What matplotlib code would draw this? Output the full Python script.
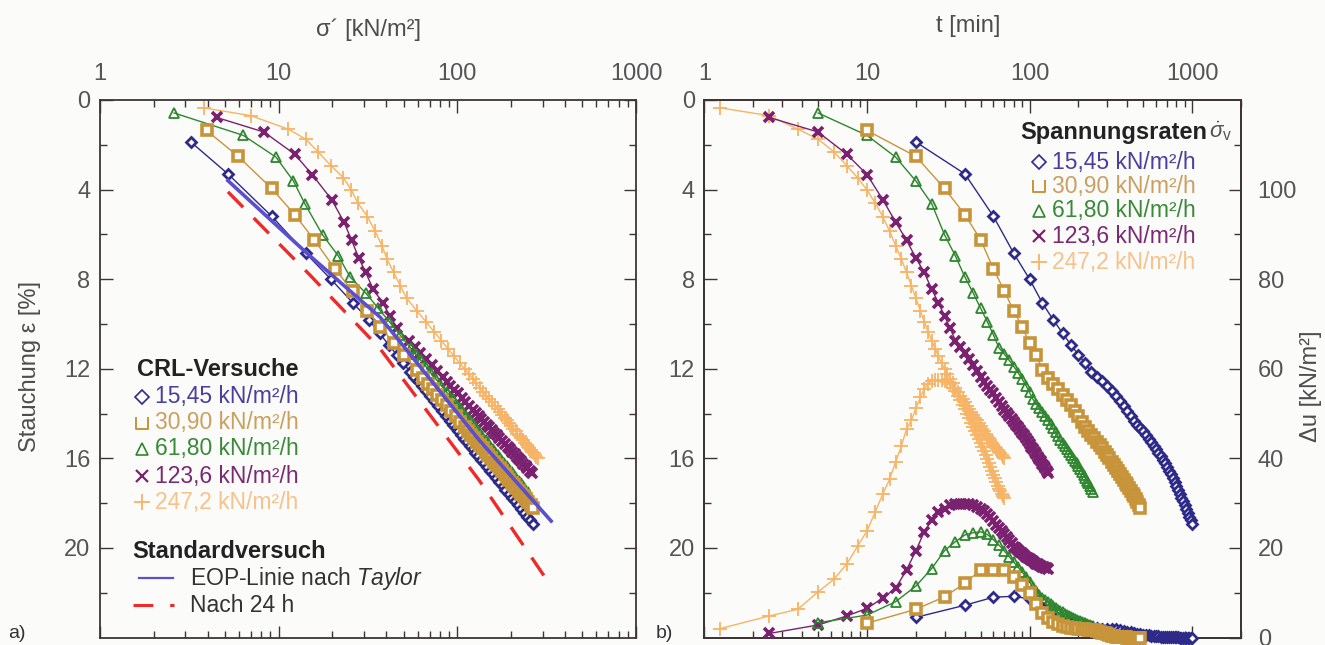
import numpy as np
import matplotlib
matplotlib.use("Agg")
import matplotlib.pyplot as plt
from matplotlib.path import Path
from matplotlib.ticker import LogLocator, NullFormatter, FixedLocator

plt.rcParams["font.family"] = ["Liberation Sans", "DejaVu Sans"]
plt.rcParams["mathtext.fontset"] = "custom"
plt.rcParams["mathtext.rm"] = "Liberation Sans"
plt.rcParams["mathtext.it"] = "Liberation Sans:italic"

# ---------------- data ----------------
rate_labels = ["15,45 kN/m²/h", "30,90 kN/m²/h", "61,80 kN/m²/h",
               "123,6 kN/m²/h", "247,2 kN/m²/h"]

sigma_ticks = [1, 10, 100, 1000]
time_ticks = [1, 10, 100, 1000]
strain_ticks = [0, 4, 8, 12, 16, 20]
du_ticks = [0, 20, 40, 60, 80, 100]

# 15,45 kN/m²/h  (time [min], strain [%], sigma' [kN/m²], excess pore pressure [kN/m²])
t_b = [20, 40, 60, 80, 100, 120, 140, 160, 180, 200, 220, 240,
       260, 280, 300, 320, 340, 360, 380, 400, 420, 440, 460, 480, 500,
       520, 540, 560, 580, 600, 620, 640, 660, 680, 700, 720, 740, 760,
       780, 800, 820, 840, 860, 880, 900, 920, 940, 960, 980, 1000]
eps_b = [1.88, 3.30, 5.20, 6.85, 8.00, 9.07, 9.82, 10.42, 10.94, 11.38, 11.75, 12.13,
         12.35, 12.56, 12.78, 13.00, 13.22, 13.45, 13.68, 13.90, 14.12, 14.33, 14.49,
         14.65, 14.80, 14.96, 15.12, 15.28, 15.44, 15.60, 15.75, 15.90, 16.06, 16.22,
         16.38, 16.55, 16.72, 16.90, 17.07, 17.25, 17.42, 17.60, 17.76, 17.92, 18.10,
         18.27, 18.43, 18.60, 18.77, 18.95]
sig_b = [3.23, 5.20, 9.17, 14.2, 19.6, 26.1, 32.0, 36.7, 41.4, 45.8, 49.9, 54.4,
         57.2, 60.1, 63.3, 66.6, 70.2, 73.9, 78.0, 82.1, 86.4, 90.8, 94.3, 97.8, 101,
         105, 109, 113, 117, 122, 126, 131, 136, 141, 146, 152, 158, 165,
         172, 179, 186, 194, 201, 209, 218, 227, 236, 245, 255, 266]
du_b = [4.5, 7.2, 9.0, 9.2, 8.6, 6.5, 4.3, 3.2, 2.7, 2.4, 2.2, 2.1,
        2.05, 2.0, 2.0, 1.9, 1.8, 1.6, 1.45, 1.3, 1.15, 1.0, 0.85, 0.7, 0.6,
        0.5, 0.45, 0.4, 0.35, 0.3, 0.25, 0.2, 0.2, 0.2, 0.15, 0.1, 0.1, 0.1,
        0.1, 0.1, 0.05, 0.0, 0.0, 0.0, 0.0, 0.0, 0.0, 0.0, 0.0, 0.0]

# 30,90 kN/m²/h
t_g = [10, 20, 30, 40, 50, 60, 70, 80, 90, 100, 110, 120, 130,
       140, 150, 160, 170, 180, 190, 200, 210, 220, 230, 240, 250, 260,
       270, 280, 290, 300, 310, 320, 330, 340, 350, 360, 370, 380, 390,
       400, 410, 420, 430, 440, 450, 460, 470, 480]
eps_g = [1.36, 2.52, 3.95, 5.12, 6.24, 7.55, 8.53, 9.43, 10.12, 10.86, 11.38, 12.05, 12.42,
         12.66, 12.90, 13.15, 13.40, 13.64, 13.88, 14.12, 14.37, 14.61, 14.78, 14.95,
         15.10, 15.25, 15.40, 15.55, 15.70, 15.85, 16.00, 16.15, 16.30, 16.45, 16.58,
         16.70, 16.83, 16.95, 17.08, 17.20, 17.33, 17.45, 17.58, 17.70, 17.83, 17.95,
         18.08, 18.20]
sig_g = [3.95, 5.94, 9.14, 12.3, 15.8, 20.7, 25.9, 31.3, 36.9, 44.2, 50.2, 59.1, 64.6,
         68.5, 72.7, 77.2, 82.0, 87.1, 92.4, 97.9, 104, 110, 115, 120, 124, 129,
         134, 139, 144, 149, 155, 161, 167, 173, 178, 184, 190, 195, 202,
         208, 214, 221, 228, 235, 242, 249, 257, 265]
du_g = [3.2, 6.3, 9.1, 12.1, 15.1, 15.1, 15.1, 13.6, 11.7, 9.9, 7.5, 5.5, 4.3,
        3.5, 3.0, 2.6, 2.4, 2.2, 2.1, 2.0, 1.9, 1.8, 1.75, 1.7, 1.6, 1.5,
        1.3, 1.1, 0.9, 0.7, 0.55, 0.4, 0.3, 0.2, 0.15, 0.1, 0.1, 0.1, 0.05,
        0.0, 0.0, 0.0, 0.0, 0.0, 0.0, 0.0, 0.0, 0.0]

# 61,80 kN/m²/h
t_gr = [5, 10, 15, 20, 25, 30, 35, 40, 45, 50, 55, 60, 65,
        70, 75, 80, 85, 90, 95, 100, 105, 110, 115, 120, 125, 130,
        135, 140, 145, 150, 155, 160, 165, 170, 175, 180, 185, 190,
        195, 200, 205, 210, 215, 220, 225, 230, 235, 240, 245]
eps_gr = [0.58, 1.58, 2.55, 3.62, 4.63, 6.02, 6.97, 7.90, 8.62, 9.30, 9.90, 10.50, 11.08,
          11.35, 11.63, 11.90, 12.18, 12.46, 12.75, 13.06, 13.37, 13.56, 13.75, 13.93,
          14.10, 14.29, 14.47, 14.66, 14.84, 15.02, 15.20, 15.33, 15.46, 15.58, 15.71,
          15.84, 15.97, 16.10, 16.22, 16.35, 16.48, 16.60, 16.73, 16.86, 16.99, 17.12,
          17.24, 17.37, 17.50]
sig_gr = [2.6, 6.34, 9.66, 12.1, 14.0, 17.6, 21.6, 25.1, 30.7, 36.1, 41.6, 47.9, 54.8,
          58.5, 62.4, 66.6, 71.0, 75.9, 81.2, 87.4, 94.0, 98.5, 103, 107, 112, 117,
          122, 127, 133, 138, 144, 148, 153, 158, 163, 168, 173, 178,
          183, 189, 195, 201, 207, 213, 220, 226, 233, 240, 248]
du_gr = [3.3, 5.0, 8.0, 11.5, 15.4, 19.4, 21.4, 22.9, 23.4, 23.6, 23.0, 21.8, 20.6,
         19.3, 18.0, 16.8, 15.7, 14.6, 13.6, 12.4, 11.2, 10.3, 9.5, 8.9, 8.4, 7.9,
         7.4, 7.0, 6.6, 6.2, 5.9, 5.6, 5.3, 5.05, 4.8, 4.55, 4.3, 4.1,
         3.9, 3.75, 3.6, 3.45, 3.3, 3.15, 3.0, 2.85, 2.7, 2.6, 2.5]

# 123,6 kN/m²/h
t_p = [2.5, 5, 7.5, 10, 12.5, 15, 17.5, 20, 22.5, 25, 27.5, 30, 32.5, 35,
       37.5, 40, 42.5, 45, 47.5, 50, 52.5, 55, 57.5, 60, 62.5, 65, 67.5,
       70, 72.5, 75, 77.5, 80, 82.5, 85, 87.5, 90, 92.5, 95, 97.5, 100,
       102.5, 105, 107.5, 110, 112.5, 115, 117.5, 120, 122.5, 125, 127.5, 130]
eps_p = [0.78, 1.43, 2.42, 3.33, 4.45, 5.45, 6.26, 7.06, 7.70, 8.45, 9.05, 9.65, 10.20, 10.75,
         11.03, 11.30, 11.58, 11.85, 12.12, 12.38, 12.57, 12.75, 12.93, 13.10, 13.29,
         13.47, 13.65, 13.83, 13.98, 14.12, 14.25, 14.37, 14.50, 14.62, 14.74, 14.86,
         14.98, 15.10, 15.23, 15.35, 15.48, 15.60, 15.71, 15.82, 15.93, 16.03, 16.14,
         16.24, 16.35, 16.45, 16.55, 16.65]
sig_p = [4.50, 8.27, 12.3, 15.4, 19.8, 23.2, 25.6, 28.1, 30.7, 33.8, 38.2, 42.0, 46.1, 53.4,
         57.6, 62.0, 66.8, 71.8, 77.2, 82.8, 87.1, 91.5, 95.9, 100.5, 106,
         111, 116, 122, 127, 132, 136, 141, 146, 151, 156, 161,
         166, 172, 178, 184, 191, 197, 203, 209, 215, 221, 228,
         234, 241, 247, 254, 261]
du_p = [0.9, 2.8, 4.8, 6.5, 8.8, 11.0, 15.1, 19.4, 23.6, 26.2, 28.0, 28.8, 29.5, 29.8,
        29.9, 29.9, 29.8, 29.5, 29.2, 28.8, 28.2, 27.5, 26.8, 26.0, 25.2,
        24.5, 23.7, 23.0, 22.4, 21.8, 21.0, 20.3, 19.9, 19.5, 19.1, 18.8,
        18.4, 18.0, 17.7, 17.5, 17.2, 17.0, 16.7, 16.5, 16.3, 16.1, 15.9,
        15.8, 15.7, 15.6, 15.5, 15.4]

# 247,2 kN/m²/h
t_o = [1.25, 2.5, 3.75, 5, 6.25, 7.5, 8.75, 10, 11.25, 12.5, 13.75, 15, 16.25,
       17.5, 18.75, 20, 21.25, 22.5, 23.75, 25, 26.25, 27.5,
       28.75, 30, 31.25, 32.5, 33.75, 35, 36.25, 37.5, 38.75, 40, 41.25,
       42.5, 43.75, 45, 46.25, 47.5, 48.75, 50, 51.25, 52.5, 53.75, 55,
       56.25, 57.5, 58.75, 60, 61.25, 62.5, 63.75, 65, 66.25, 67.5, 68.75, 70]
eps_o = [0.35, 0.70, 1.30, 1.75, 2.31, 2.93, 3.47, 4.02, 4.61, 5.21, 5.85, 6.50, 7.10,
         7.70, 8.30, 8.85, 9.40, 9.90, 10.35, 10.75, 11.10, 11.45,
         11.75, 12.00, 12.23, 12.45, 12.65, 12.85, 13.03, 13.20, 13.35, 13.50, 13.65,
         13.80, 13.93, 14.05, 14.18, 14.30, 14.43, 14.55, 14.68, 14.80, 14.90, 15.00,
         15.10, 15.20, 15.30, 15.40, 15.48, 15.55, 15.63, 15.70, 15.78, 15.85, 15.93, 16.00]
sig_o = [3.8, 7.0, 11.3, 14.2, 16.6, 19.6, 23.0, 25.5, 27.8, 31.4, 34.6, 37.8, 40.4,
         44.0, 48.0, 52.0, 59.2, 66.7, 74.2, 81.5, 88.5, 96.1,
         103, 110, 116, 122, 128, 134, 139, 145, 150, 156, 162,
         168, 173, 178, 184, 189, 195, 200, 206, 212, 217, 223,
         228, 233, 239, 245, 249, 253, 258, 263, 268, 272, 277, 282]
du_o = [2.0, 4.8, 6.3, 10.2, 13.0, 16.4, 20.4, 23.8, 28.1, 32.0, 35.3, 39.2, 42.7,
        46.5, 48.5, 51.2, 53.6, 55.5, 56.7, 57.3, 57.5, 57.5,
        57.4, 57.3, 57.0, 56.5, 55.8, 55.0, 54.0, 53.0, 52.0, 51.0, 50.0,
        49.0, 48.0, 47.0, 46.1, 45.2, 44.3, 43.4, 42.5, 41.6, 40.7, 39.8,
        38.9, 38.0, 37.1, 36.3, 35.5, 34.7, 33.9, 33.2, 32.6, 32.0, 31.6, 31.2]

# standard oedometer test
sig_taylor = [5.2, 14.2, 37, 133, 335]
eps_taylor = [3.6, 6.8, 9.7, 15.2, 18.8]
sig_24h = [5.2, 14.9, 36.9, 133, 309]
eps_24h = [4.1, 7.8, 11.1, 17.0, 21.3]

# ---------------- styles ----------------
BG = "#fbfbf9"
FRAME = "#3d3535"
TICKLAB = "#555555"
c_b, c_g, c_gr, c_p, c_o = "#2d2a8a", "#c8943a", "#2f862f", "#7a216f", "#f7b466"
txt_cols = ["#4a3f9c", "#c9a060", "#3a8a3a", "#7a2a72", "#f7c28c"]

cup = Path([(-1, 1), (-1, -1), (1, -1), (1, 1)],
           [Path.MOVETO, Path.LINETO, Path.LINETO, Path.LINETO])

series = [
    # t, eps, sig, du, colour, marker kwargs, zorder
    (t_o, eps_o, sig_o, du_o, c_o, dict(marker="+", ms=10, mew=1.3), 3),
    (t_p, eps_p, sig_p, du_p, c_p, dict(marker="x", ms=7.5, mew=2.6), 4),
    (t_gr, eps_gr, sig_gr, du_gr, c_gr, dict(marker="^", ms=7.5, mfc="none", mew=1.3), 5),
    (t_b, eps_b, sig_b, du_b, c_b, dict(marker="D", ms=5.5, mfc="white", mew=2.0), 6),
    (t_g, eps_g, sig_g, du_g, c_g, dict(marker="s", ms=7.0, mfc="white", mew=2.6), 7),
]

W, H = 1325, 645
fig = plt.figure(figsize=(W / 100, H / 100), dpi=100)
fig.patch.set_facecolor(BG)


def box(x0, y0, x1, y1):
    return [x0 / W, 1 - y1 / H, (x1 - x0) / W, (y1 - y0) / H]


axL = fig.add_axes(box(100, 100, 636, 637.5))
axR = fig.add_axes(box(704.5, 100, 1241, 637.5))
axU = axR.twinx()

for ax in (axL, axR, axU):
    ax.set_facecolor(BG)
    for s in ax.spines.values():
        s.set_color(FRAME)
        s.set_linewidth(1.3)
axU.patch.set_visible(False)


def log_x(ax, lo, hi, ticks):
    ax.set_xscale("log")
    ax.set_xlim(lo, hi)
    ax.set_xticks(ticks, labels=[str(v) for v in ticks])
    ax.xaxis.set_minor_locator(LogLocator(base=10, subs=np.arange(2, 10), numticks=20))
    ax.xaxis.set_minor_formatter(NullFormatter())
    ax.tick_params(axis="x", which="both", direction="in", top=True, bottom=True,
                   labeltop=True, labelbottom=False, color=FRAME, width=1.0)
    ax.tick_params(axis="x", which="major", length=9, pad=11,
                   labelsize=17, labelcolor=TICKLAB)
    ax.tick_params(axis="x", which="minor", length=5)


def strain_y(ax, right):
    ax.set_ylim(24, 0)
    ax.set_yticks(strain_ticks, labels=[str(v) for v in strain_ticks])
    ax.yaxis.set_minor_locator(FixedLocator([2, 6, 10, 14, 18, 22]))
    ax.tick_params(axis="y", which="both", direction="in", left=True, right=right,
                   labelleft=True, labelright=False, color=FRAME, width=1.0)
    ax.tick_params(axis="y", which="major", length=9, pad=7,
                   labelsize=17, labelcolor=TICKLAB)
    ax.tick_params(axis="y", which="minor", length=5)


log_x(axL, 1, 1000, sigma_ticks)
log_x(axR, 1, 2000, time_ticks)
strain_y(axL, True)
strain_y(axR, False)

axU.set_ylim(0, 120)
axU.set_yticks(du_ticks, labels=[str(v) for v in du_ticks])
axU.yaxis.set_minor_locator(FixedLocator([10, 30, 50, 70, 90, 110]))
axU.tick_params(axis="y", which="both", direction="in", left=False, right=True,
                labelright=True, color=FRAME, width=1.0)
axU.tick_params(axis="y", which="major", length=9, pad=12,
                labelsize=17, labelcolor=TICKLAB)
axU.tick_params(axis="y", which="minor", length=5)

# ---------------- curves ----------------
for t, eps, sig, du, col, mk, z in series:
    kw = dict(color=col, lw=1.0, mec=col, **mk)
    axL.plot(sig, eps, zorder=z, **kw)
    axR.plot(t, eps, zorder=z, **kw)
    axU.plot(t, du, zorder=z, clip_on=False, **kw)

axL.plot(sig_taylor, eps_taylor, color="#5a4fcf", lw=2.6, zorder=8)
axL.plot(sig_24h, eps_24h, color="#ee2a2a", lw=2.4, dashes=(6.5, 4.5), zorder=8)

# ---------------- annotations ----------------
ov = fig.add_axes([0, 0, 1, 1], zorder=20)
ov.set_xlim(0, W)
ov.set_ylim(H, 0)
ov.axis("off")
ov.patch.set_visible(False)

LAB = "#4d4d4d"
ov.text(368, 30, "σ´ [kN/m²]", ha="center", va="center", fontsize=17, color=LAB)
ov.text(968, 26, "t [min]", ha="center", va="center", fontsize=17, color=LAB)
ov.text(30, 366, "Stauchung ε [%]", ha="center", va="center", rotation=90,
        fontsize=17, color=LAB)
ov.text(1311, 386, "Δu [kN/m²]", ha="center", va="center", rotation=90,
        fontsize=17, color=LAB)
ov.text(8, 633, "a)", ha="left", va="center", fontsize=14, color="#333333")
ov.text(656, 633, "b)", ha="left", va="center", fontsize=14, color="#333333")

leg_markers = [
    dict(marker="D", ms=7, mfc="none", mew=1.2),
    dict(marker=cup, ms=9, mfc="none", mew=1.4),
    dict(marker="^", ms=8, mfc="none", mew=1.2),
    dict(marker="x", ms=8, mew=1.6),
    dict(marker="+", ms=11, mew=1.3),
]
leg_cols = [c_b, c_g, c_gr, c_p, c_o]

# left legend
ov.text(137, 369, "CRL-Versuche", ha="left", va="center", fontsize=17,
        fontweight="bold", color="#222222")
for i, y in enumerate([397, 423, 449, 476, 502]):
    ov.plot([142], [y], color=leg_cols[i], **leg_markers[i])
    ov.text(155, y, rate_labels[i], ha="left", va="center", fontsize=16.5,
            color=txt_cols[i])
ov.text(132, 552, "Standardversuch", ha="left", va="center", fontsize=17,
        fontweight="bold", color="#222222")
ov.plot([139, 173], [578, 578], color="#5a4fcf", lw=1.6)
ov.text(190, 578, "EOP-Linie nach $\\mathit{Taylor}$", ha="left", va="center",
        fontsize=16.5, color="#333333")
ov.plot([133, 174], [605, 605], color="#ee2a2a", lw=2.2, dashes=(6.5, 5.5))
ov.text(190, 605, "Nach 24 h", ha="left", va="center", fontsize=16.5,
        color="#333333")

# right legend
ov.text(1020, 133, "Spannungsraten", ha="left", va="center", fontsize=17,
        fontweight="bold", color="#222222")
ov.text(1209, 131, r"$\dot{\sigma}_{\rm v}$", ha="left", va="center",
        fontsize=16, color="#555555")
for i, y in enumerate([162, 186, 211, 236, 262]):
    ov.plot([1039], [y], color=leg_cols[i], **leg_markers[i])
    ov.text(1052, y, rate_labels[i], ha="left", va="center", fontsize=16.5,
            color=txt_cols[i])

fig.savefig("out.png", dpi=100, facecolor=BG)
